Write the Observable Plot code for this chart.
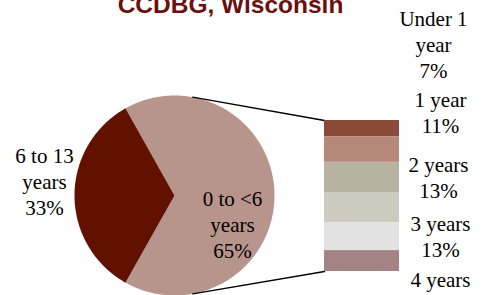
<!DOCTYPE html>
<html>
<head>
<meta charset="utf-8">
<script src="https://cdn.jsdelivr.net/npm/d3@7"></script>
<script src="https://cdn.jsdelivr.net/npm/@observablehq/plot@0.6"></script>
<style>
  html, body { margin: 0; padding: 0; background: #fff; }
  #chart svg { display: block; }
</style>
</head>
<body>
<div id="chart"></div>
<script>
// ---- data ----
const title = "CCDBG, Wisconsin";
const pieNames = ["0 to <6\nyears", "6 to 13\nyears"];
const pieValues = [65, 33];
const pieColors = ["#b8958c", "#621100"];

const barNames = ["Under 1\nyear", "1 year", "2 years", "3 years", "4 years", "5 years"];
const barValues = [7, 11, 13, 13, 12, 9];
const barShowPct = [true, true, true, true, false, false];
const barColors = ["#8b4a35", "#b5887a", "#b8b2a2", "#cdcac0", "#e2e2e2", "#a38383"];

// ---- layout (pixels) ----
const W = 487, H = 295;
const cx = 174, cy = 195, R = 100;
const barX1 = 324, barX2 = 399, barTop = 120, barBottom = 271;
const connAngle = 10.5 * Math.PI / 180;
const pieLabelPos = [[232, 223], [44, 180]];
const barLabelPos = [[433, 43], [440, 111], [438, 176], [440, 235], [440, 278]];

// ---- pie geometry from data ----
const total = d3.sum(pieValues);
const startAngle = Math.PI / 2 - Math.PI * pieValues[0] / total;
const arcs = d3.pie().sort(null).startAngle(startAngle).endAngle(startAngle + 2 * Math.PI)(pieValues);
const pt = (a, r) => ({x: cx + r * Math.sin(a), y: cy - r * Math.cos(a)});
const slices = arcs.map((a, i) => {
  const pts = [pt(0, 0)];
  const n = Math.max(8, Math.ceil((a.endAngle - a.startAngle) / 0.01));
  for (let k = 0; k <= n; k++) pts.push(pt(a.startAngle + (a.endAngle - a.startAngle) * k / n, R));
  pts.push(pt(0, 0));
  return {pts, color: pieColors[i]};
});
const pieLabels = pieNames.map((nm, i) => ({x: pieLabelPos[i][0], y: pieLabelPos[i][1], t: `${nm}\n${pieValues[i]}%`}));

// ---- bar geometry from data ----
const barTotal = d3.sum(barValues);
const k = (barBottom - barTop) / barTotal;
const cum = [0, ...d3.cumsum(barValues)];
const barRects = barValues.map((v, i) => ({
  y1: barTop + cum[i] * k, y2: barTop + cum[i + 1] * k, color: barColors[i]
}));
const barLabels = barLabelPos.map((p, i) => ({
  x: p[0], y: p[1], t: barShowPct[i] ? `${barNames[i]}\n${barValues[i]}%` : barNames[i]
}));

// connectors
const connectors = [
  [pt(connAngle, R), {x: barX1, y: barTop}],
  [pt(Math.PI - connAngle, R), {x: barX1, y: barBottom}]
];

const serif = "Liberation Serif";

const chart = Plot.plot({
  width: W, height: H,
  margin: 0,
  x: {domain: [0, W], range: [0, W], axis: null},
  y: {domain: [0, H], range: [0, H], axis: null},
  marks: [
    ...slices.map(s => Plot.line(s.pts, {x: "x", y: "y", fill: s.color, stroke: "none", curve: "linear"})),
    ...connectors.map(c => Plot.line(c, {x: "x", y: "y", stroke: "#000", strokeWidth: 1.4})),
    Plot.rect(barRects, {x1: barX1, x2: barX2, y1: "y1", y2: "y2", fill: d => d.color}),
    Plot.text(pieLabels, {x: "x", y: "y", text: "t", fontFamily: serif, fontSize: 21, lineHeight: 1.25, fill: "#000", lineAnchor: "middle"}),
    Plot.text(barLabels, {x: "x", y: "y", text: "t", fontFamily: serif, fontSize: 21, lineHeight: 1.25, fill: "#000", lineAnchor: "middle"}),
    Plot.text([title], {x: 230, y: 12, text: d => d, fontFamily: "Liberation Sans", fontWeight: "bold", fontSize: 24.5, fill: "#6b0f0f", lineAnchor: "bottom"})
  ]
});
chart.style.overflow = "hidden";
document.getElementById("chart").appendChild(chart);
</script>
</body>
</html>
